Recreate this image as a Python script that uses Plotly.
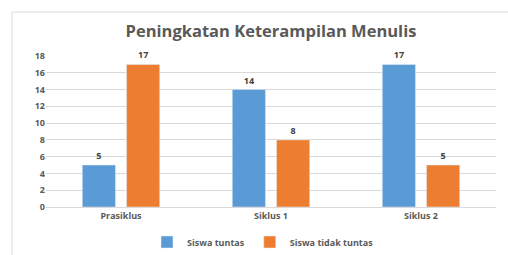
import plotly.graph_objects as go

categories = ["Prasiklus", "Siklus 1", "Siklus 2"]
tuntas = [5, 14, 17]
tidak_tuntas = [17, 8, 5]
y_ticks = [0, 2, 4, 6, 8, 10, 12, 14, 16, 18]

W, H = 508, 255
L, R, T, B = 46, 12, 56, 48
pw, ph = W - L - R, H - T - B

def px(x):
    return (x - L) / pw

def py(y):
    return (H - B - y) / ph

font_family = "Open Sans, Liberation Sans, sans-serif"
label_font = dict(family=font_family, size=9, color="#404040", weight="bold")

fig = go.Figure()
fig.add_trace(go.Bar(name="Siswa tuntas", x=categories, y=tuntas, marker_color="#5B9BD5",
                     text=tuntas, textposition="outside", textfont=label_font, cliponaxis=False))
fig.add_trace(go.Bar(name="Siswa tidak tuntas", x=categories, y=tidak_tuntas, marker_color="#ED7D31",
                     text=tidak_tuntas, textposition="outside", textfont=label_font, cliponaxis=False))

fig.update_layout(
    width=W, height=H,
    margin=dict(l=L, r=R, t=T, b=B, autoexpand=False),
    paper_bgcolor="white", plot_bgcolor="white",
    barmode="group", bargap=0.41, bargroupgap=0.25,
    title=dict(text="<b>Peningkatan Keterampilan Menulis</b>", x=0.5, xanchor="center", xref="paper",
               y=1 - 31 / H, yanchor="middle", yref="container",
               font=dict(family=font_family, size=16.5, color="#595959")),
    font=dict(family=font_family, color="#595959"),
    showlegend=True,
    legend=dict(orientation="h", x=px(263), xanchor="center", y=1 - 242 / H, yanchor="middle",
                xref="paper", yref="container",
                font=dict(size=9, color="#595959", weight="bold"), itemwidth=30, traceorder="normal"),
    xaxis=dict(showgrid=False, showline=True, linecolor="#d9d9d9", linewidth=1,
               tickfont=dict(size=9, color="#595959", weight="bold"), ticks=""),
    yaxis=dict(range=[0, 18], tickvals=y_ticks, showgrid=True, gridcolor="#d9d9d9",
               gridwidth=1, zeroline=False, showline=False, ticks="",
               tickfont=dict(size=9, color="#595959", weight="bold")),
    shapes=[dict(type="rect", xref="paper", yref="paper",
                 x0=px(12), x1=px(W + 5), y0=py(H + 5), y1=py(12),
                 line=dict(color="#d9d9d9", width=1), fillcolor="rgba(0,0,0,0)", layer="below")],
)

fig.write_html("out.html", config={"displayModeBar": False},
               post_script="document.body.style.margin='0';document.body.style.overflow='hidden';")
